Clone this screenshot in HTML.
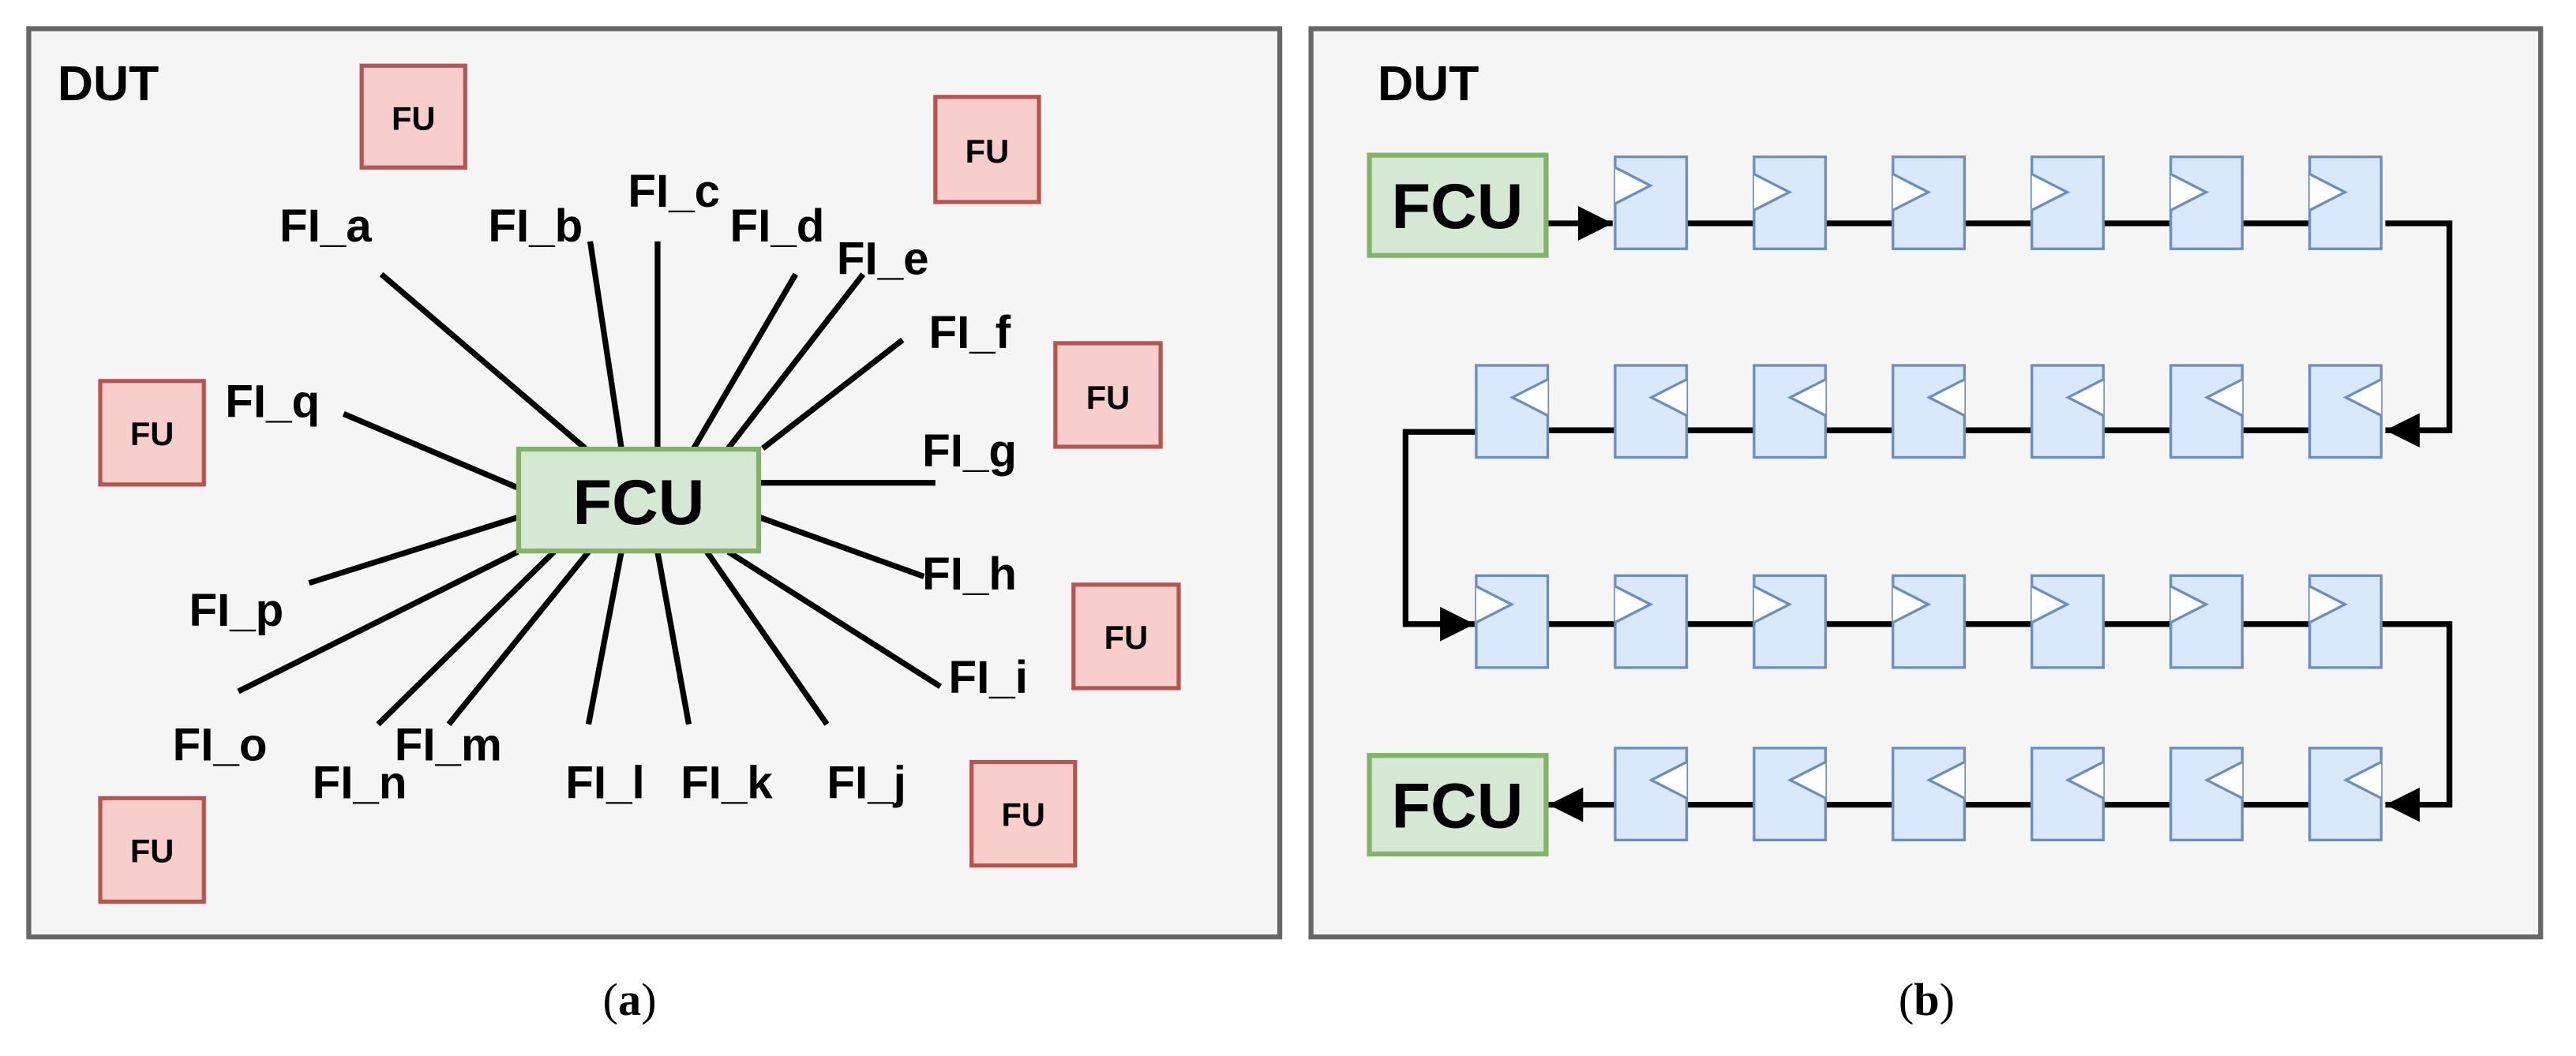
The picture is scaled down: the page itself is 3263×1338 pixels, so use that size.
<!DOCTYPE html>
<html><head><meta charset="utf-8"><style>
html,body{margin:0;padding:0;background:#fff;}
svg{display:block;}
.l{font-family:"Liberation Sans",sans-serif;font-weight:bold;font-size:28px;fill:#000;}
.fu{font-family:"Liberation Sans",sans-serif;font-weight:bold;font-size:20px;fill:#000;}
.big{font-family:"Liberation Sans",sans-serif;font-weight:bold;font-size:39px;fill:#000;}
.cap{font-family:"Liberation Serif",serif;font-size:28px;fill:#000;}
</style></head><body>
<svg width="3263" height="1338" viewBox="0 0 1567 643" preserveAspectRatio="none" xmlns="http://www.w3.org/2000/svg">
<defs>
<marker id="ar" viewBox="0 0 10 10" refX="10" refY="5" markerWidth="6" markerHeight="6" orient="auto" markerUnits="strokeWidth"><path d="M0,0 L10,5 L0,10 z" fill="#000"/></marker>
</defs>
<rect x="17.5" y="17.5" width="761" height="553" fill="#f5f5f5" stroke="#666" stroke-width="3"/>
<text class="l" x="35" y="61" style="font-size:30px">DUT</text>
<g fill="#f8cecc" stroke="#b85450" stroke-width="2.5">
<rect x="220" y="40" width="63" height="62"/>
<rect x="569" y="59" width="63" height="64"/>
<rect x="642" y="209" width="64" height="63"/>
<rect x="61" y="232" width="63" height="63"/>
<rect x="653" y="356" width="64" height="63"/>
<rect x="591" y="464" width="63" height="63"/>
<rect x="61" y="486" width="63" height="63"/>
</g>
<g class="fu" text-anchor="middle">
<text x="251.5" y="79">FU</text><text x="600.5" y="99">FU</text><text x="674" y="249">FU</text>
<text x="92.5" y="271">FU</text><text x="685" y="395">FU</text><text x="622.5" y="503">FU</text><text x="92.5" y="525">FU</text>
</g>
<g stroke="#000" stroke-width="3.5" stroke-linecap="butt">
<line x1="232" y1="167" x2="356" y2="273"/>
<line x1="359" y1="147" x2="378" y2="273"/>
<line x1="400" y1="147" x2="400" y2="273"/>
<line x1="484" y1="167" x2="422" y2="273"/>
<line x1="525" y1="167" x2="443" y2="273"/>
<line x1="549" y1="207" x2="464" y2="273"/>
<line x1="209" y1="252" x2="315" y2="297"/>
<line x1="462" y1="294" x2="569" y2="294"/>
<line x1="462" y1="315" x2="562" y2="351"/>
<line x1="188" y1="355" x2="315" y2="315"/>
<line x1="145" y1="421" x2="315" y2="336"/>
<line x1="230" y1="441" x2="337" y2="336"/>
<line x1="273" y1="441" x2="358" y2="336"/>
<line x1="358" y1="441" x2="378" y2="336"/>
<line x1="419" y1="441" x2="400" y2="336"/>
<line x1="503" y1="441" x2="430" y2="336"/>
<line x1="572" y1="418" x2="443" y2="336"/>
</g>
<rect x="315.5" y="273.5" width="146" height="62" fill="#d5e8d4" stroke="#82b366" stroke-width="3"/>
<text class="big" x="388.5" y="319" text-anchor="middle">FCU</text>
<g class="l">
<text x="170" y="147">FI_a</text><text x="297" y="147">FI_b</text><text x="382" y="126">FI_c</text>
<text x="444" y="147">FI_d</text><text x="509" y="167">FI_e</text><text x="565" y="212">FI_f</text>
<text x="137" y="254">FI_q</text><text x="561" y="284">FI_g</text><text x="561" y="359">FI_h</text>
<text x="115" y="381">FI_p</text><text x="577" y="422">FI_i</text><text x="105" y="463">FI_o</text>
<text x="240" y="463">FI_m</text><text x="190" y="486">FI_n</text><text x="344" y="486">FI_l</text>
<text x="414" y="486">FI_k</text><text x="503" y="486">FI_j</text>
</g>
<text class="cap" x="383" y="618" text-anchor="middle">(<tspan font-weight="bold">a</tspan>)</text>

<rect x="797.5" y="17.5" width="748" height="553" fill="#f5f5f5" stroke="#666" stroke-width="3"/>
<text class="l" x="838" y="61" style="font-size:30px">DUT</text>
<g stroke="#000" stroke-width="3.5" fill="none">
<line x1="941" y1="136" x2="981" y2="136" marker-end="url(#ar)"/>
<line x1="1026" y1="136" x2="1407" y2="136"/>
<polyline points="1451,136 1490,136 1490,262 1451,262" marker-end="url(#ar)"/>
<line x1="898" y1="262" x2="1407" y2="262"/>
<polyline points="898,263 855,263 855,380 897,380" marker-end="url(#ar)"/>
<line x1="941" y1="380" x2="1451" y2="380"/>
<polyline points="1451,380 1490,380 1490,490 1451,490" marker-end="url(#ar)"/>
<line x1="1407" y1="490" x2="942" y2="490" marker-end="url(#ar)"/>
</g>
<g fill="#dae8fc" stroke="#6c8ebf" stroke-width="1.6">
<rect x="982.5" y="95.5" width="43.5" height="56"/><rect x="1067" y="95.5" width="43.5" height="56"/><rect x="1151.5" y="95.5" width="43.5" height="56"/><rect x="1236" y="95.5" width="43.5" height="56"/><rect x="1320.5" y="95.5" width="43.5" height="56"/><rect x="1405" y="95.5" width="43.5" height="56"/>
<rect x="898" y="222.5" width="43.5" height="56"/><rect x="982.5" y="222.5" width="43.5" height="56"/><rect x="1067" y="222.5" width="43.5" height="56"/><rect x="1151.5" y="222.5" width="43.5" height="56"/><rect x="1236" y="222.5" width="43.5" height="56"/><rect x="1320.5" y="222.5" width="43.5" height="56"/><rect x="1405" y="222.5" width="43.5" height="56"/>
<rect x="898" y="350.5" width="43.5" height="56"/><rect x="982.5" y="350.5" width="43.5" height="56"/><rect x="1067" y="350.5" width="43.5" height="56"/><rect x="1151.5" y="350.5" width="43.5" height="56"/><rect x="1236" y="350.5" width="43.5" height="56"/><rect x="1320.5" y="350.5" width="43.5" height="56"/><rect x="1405" y="350.5" width="43.5" height="56"/>
<rect x="982.5" y="455.5" width="43.5" height="56"/><rect x="1067" y="455.5" width="43.5" height="56"/><rect x="1151.5" y="455.5" width="43.5" height="56"/><rect x="1236" y="455.5" width="43.5" height="56"/><rect x="1320.5" y="455.5" width="43.5" height="56"/><rect x="1405" y="455.5" width="43.5" height="56"/>
</g>
<g fill="#fff" stroke="#6c8ebf" stroke-width="1.6">
<path d="M982.5,102 L1004,113 L982.5,124"/><path d="M1067,106 L1088.5,117 L1067,128"/><path d="M1151.5,106 L1173,117 L1151.5,128"/><path d="M1236,106 L1257.5,117 L1236,128"/><path d="M1320.5,106 L1342,117 L1320.5,128"/><path d="M1405,106 L1426.5,117 L1405,128"/>
<path d="M898,357 L919.5,368 L898,379"/><path d="M982.5,357 L1004,368 L982.5,379"/><path d="M1067,357 L1088.5,368 L1067,379"/><path d="M1151.5,357 L1173,368 L1151.5,379"/><path d="M1236,357 L1257.5,368 L1236,379"/><path d="M1320.5,357 L1342,368 L1320.5,379"/><path d="M1405,357 L1426.5,368 L1405,379"/>
<path d="M941.5,231 L920,242 L941.5,253"/><path d="M1026,231 L1004.5,242 L1026,253"/><path d="M1110.5,231 L1089,242 L1110.5,253"/><path d="M1195,231 L1173.5,242 L1195,253"/><path d="M1279.5,231 L1258,242 L1279.5,253"/><path d="M1364,231 L1342.5,242 L1364,253"/><path d="M1448.5,231 L1427,242 L1448.5,253"/>
<path d="M1026,464 L1004.5,475 L1026,486"/><path d="M1110.5,464 L1089,475 L1110.5,486"/><path d="M1195,464 L1173.5,475 L1195,486"/><path d="M1279.5,464 L1258,475 L1279.5,486"/><path d="M1364,464 L1342.5,475 L1364,486"/><path d="M1448.5,464 L1427,475 L1448.5,486"/>
</g>
<rect x="833" y="94.5" width="107.5" height="61" fill="#d5e8d4" stroke="#82b366" stroke-width="3"/>
<text class="big" x="886.5" y="139" text-anchor="middle">FCU</text>
<rect x="833" y="460" width="107.5" height="60" fill="#d5e8d4" stroke="#82b366" stroke-width="3"/>
<text class="big" x="886.5" y="504" text-anchor="middle">FCU</text>
<text class="cap" x="1172" y="618" text-anchor="middle">(<tspan font-weight="bold">b</tspan>)</text>
</svg>
</body></html>
